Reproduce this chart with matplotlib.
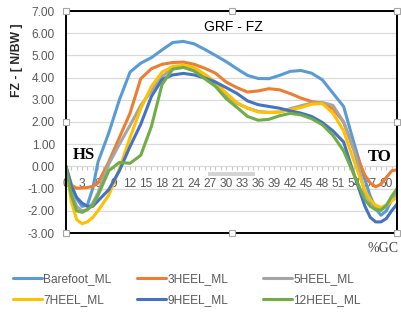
import matplotlib
matplotlib.use('Agg')
import matplotlib.pyplot as plt
from matplotlib.patches import Rectangle

# % gait cycle samples (denser near heel strike and toe off)
gc = [0, 1, 2, 3, 4, 5] + list(range(6, 57, 2)) + [57, 58, 59, 60, 61, 62]

barefoot = [0.00, -0.80, -1.45, -1.80, -1.75, -1.00,
            0.20, 1.50, 3.00, 4.25, 4.65, 4.90, 5.25, 5.58, 5.63, 5.52,
            5.27, 5.00, 4.72, 4.40, 4.10, 3.96, 3.95, 4.10, 4.28, 4.32,
            4.20, 3.90, 3.30, 2.70, 1.00, -0.60,
            -1.35, -1.90, -2.20, -2.00, -1.50, -1.10]
heel3 = [-0.63, -0.85, -0.98, -0.97, -0.95, -0.90,
         -0.75, 0.20, 1.30, 2.40, 3.95, 4.40, 4.60, 4.68, 4.70, 4.60,
         4.42, 4.20, 3.80, 3.55, 3.35, 3.40, 3.50, 3.45, 3.28, 3.08,
         2.92, 2.85, 2.60, 2.00, 0.70, -0.40,
         -0.75, -0.92, -0.80, -0.50, -0.20, -0.15]
heel5 = [0.00, -1.20, -1.80, -2.00, -1.95, -1.65,
         -1.20, 0.10, 1.00, 1.85, 2.75, 3.40, 4.05, 4.42, 4.50, 4.30,
         4.05, 3.65, 3.20, 2.84, 2.63, 2.48, 2.43, 2.45, 2.60, 2.73,
         2.85, 2.88, 2.75, 2.00, 0.70, -1.20,
         -1.60, -1.85, -1.95, -1.80, -1.50, -1.20]
heel7 = [0.00, -1.60, -2.40, -2.58, -2.50, -2.30,
         -2.00, -1.30, -0.10, 1.30, 2.60, 3.60, 4.25, 4.50, 4.55, 4.45,
         4.15, 3.80, 3.30, 2.88, 2.62, 2.45, 2.43, 2.45, 2.55, 2.65,
         2.80, 2.83, 2.40, 1.60, 0.20, -1.10,
         -1.50, -1.75, -1.85, -1.75, -1.55, -1.40]
heel9 = [0.00, -0.90, -1.40, -1.65, -1.80, -1.80,
         -1.55, -1.05, -0.20, 0.90, 1.90, 3.15, 3.92, 4.12, 4.19, 4.12,
         3.98, 3.80, 3.55, 3.29, 2.95, 2.78, 2.70, 2.62, 2.50, 2.40,
         2.25, 1.98, 1.60, 1.10, -0.40, -1.80,
         -2.30, -2.50, -2.50, -2.35, -2.00, -1.70]
heel12 = [0.00, -1.30, -2.00, -2.07, -1.95, -1.75,
          -1.30, -0.20, 0.18, 0.14, 0.50, 1.80, 3.70, 4.38, 4.46, 4.30,
          3.95, 3.60, 3.05, 2.66, 2.25, 2.08, 2.12, 2.28, 2.39, 2.32,
          2.15, 1.88, 1.40, 0.70, -0.40, -1.50,
          -1.80, -1.95, -1.98, -1.75, -1.35, -1.00]

series = [barefoot, heel3, heel5, heel7, heel9, heel12]
labels = ['Barefoot_ML', '3HEEL_ML', '5HEEL_ML', '7HEEL_ML', '9HEEL_ML', '12HEEL_ML']
colors = ['#5B9BD5', '#ED7D31', '#A5A5A5', '#FFC000', '#4472C4', '#70AD47']

yticks = list(range(-3, 8))
xlabels_every = 3

plt.rcParams['font.family'] = ['Liberation Sans', 'DejaVu Sans']
W, H = 401, 315
FS = 8.6

fig = plt.figure(figsize=(W / 100, H / 100), dpi=100)
ax = fig.add_axes([66 / W, 1 - 233 / H, (397 - 66) / W, (233 - 11) / H])

lines = []
for y, lab, c in zip(series, labels, colors):
    ln, = ax.plot(gc, y, color=c, lw=2.2, label=lab, solid_capstyle='round',
                  solid_joinstyle='round')
    lines.append(ln)

ax.set_xlim(0, 62)
ax.set_ylim(-3, 7)
ax.set_yticks(yticks)
ax.set_yticklabels([f'{v:.2f}' for v in yticks])
ax.tick_params(axis='y', length=0, pad=8, labelsize=FS, labelcolor='#595959')
ax.set_xticks([])
ax.grid(axis='y', color='#D9D9D9', lw=0.9)
ax.set_axisbelow(True)
for s in ax.spines.values():
    s.set_color('black')
    s.set_linewidth(1.4)

# category axis crossing at y = 0
sec = ax.secondary_xaxis(0.3)
sec.spines['bottom'].set_visible(False)
sec.set_xticks(list(range(0, 61, xlabels_every)))
sec.set_xticks(list(range(0, 62)), minor=True)
sec.tick_params(axis='x', which='both', length=3, color='#C8C8C8', width=0.8,
                pad=5, labelsize=FS, labelcolor='#595959')

# faint scrollbar smudge
ax.add_patch(Rectangle((26.6, -0.45), 8.8, 0.2, color='#D4D4D4', lw=0, zorder=0.5))

# selection handles
hx = [0, 0.5, 1, 0, 1, 0, 0.5, 1]
hy = [0, 0, 0, 0.5, 0.5, 1, 1, 1]
ax.plot(hx, hy, 's', transform=ax.transAxes, clip_on=False, ms=4.5,
        mfc='white', mec='#A6A6A6', mew=0.8, zorder=5)

fig.text(233 / W, 1 - 27 / H, 'GRF - FZ', ha='center', va='center', fontsize=10, color='black')
fig.text(84 / W, 1 - 155 / H, 'HS', ha='center', va='center', fontsize=12,
         family='Liberation Serif', weight='bold')
fig.text(380 / W, 1 - 157 / H, 'TO', ha='center', va='center', fontsize=12,
         family='Liberation Serif', weight='bold')
fig.text(383 / W, 1 - 249 / H, '%GC', ha='center', va='center', fontsize=10,
         family='Liberation Serif', color='#404040')
fig.text(17 / W, 1 - 60 / H, 'FZ - [ N/BW ]', ha='center', va='center', rotation=90,
         fontsize=8.8, weight='bold', color='#262626')

# legend: 3 columns x 2 rows
col_x = [13, 137, 263]
for k, x0 in enumerate(col_x):
    leg = fig.legend([lines[k], lines[k + 3]], [labels[k], labels[k + 3]],
                     loc='upper left', bbox_to_anchor=(x0 / W, 1 - 273 / H),
                     frameon=False, fontsize=FS, handlelength=2.4,
                     handletextpad=0.15, labelspacing=0.75, borderpad=0,
                     borderaxespad=0)
    for t in leg.get_texts():
        t.set_color('#595959')

fig.savefig('out.png', dpi=100)
